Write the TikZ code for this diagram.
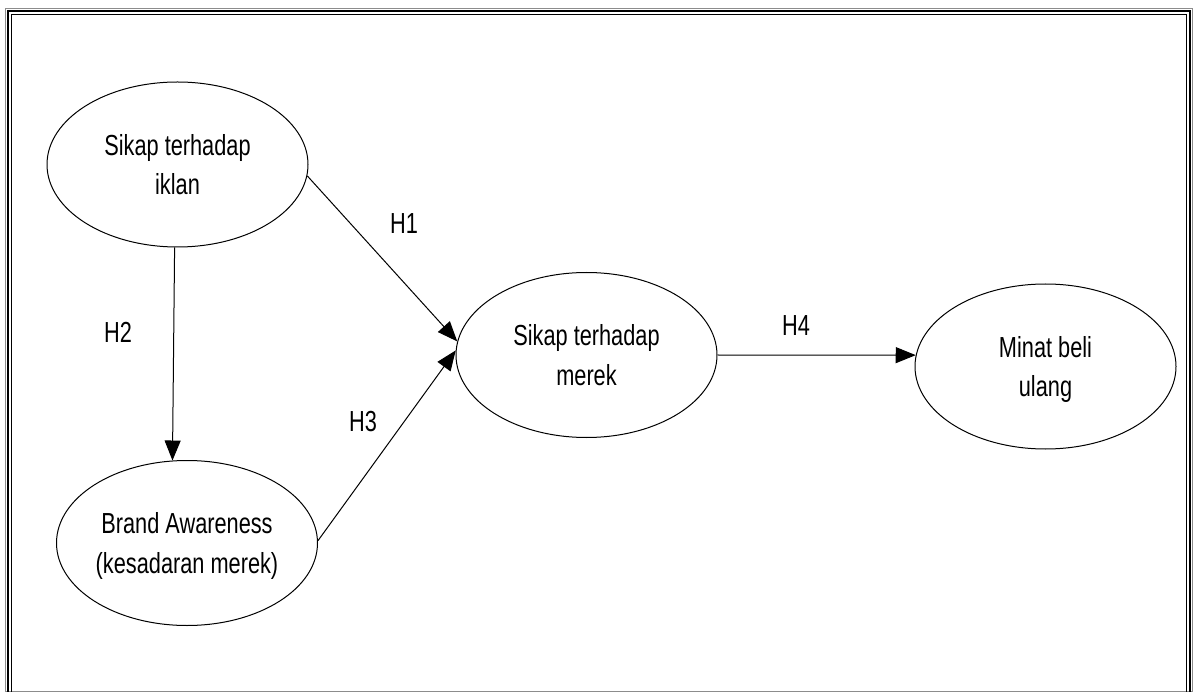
\documentclass[tikz,border=0pt]{standalone}
\usepackage{fontspec}
\setmainfont[FakeStretch=0.75]{Liberation Sans}
\usetikzlibrary{arrows.meta,shapes.geometric}
\begin{document}
\begin{tikzpicture}[x=1pt,y=-1pt,
  latent/.style={draw, line width=1pt, ellipse, minimum width=261pt, minimum height=165pt,
    inner sep=0pt, align=center, font=\fontsize{29}{39.5}\selectfont, text depth=0pt},
  hlabel/.style={font=\fontsize{29}{39.5}\selectfont, inner sep=0pt, text depth=0pt},
  conn/.style={-{Triangle[length=20pt,width=16pt]}, line width=1pt}]
\useasboundingbox (0,0) rectangle (1194,692);
\clip (0,0) rectangle (1194,692);
% frame
\draw[black!45, line width=1pt] (5.7,8.3) rectangle (1192.7,691);
\draw[line width=2.4pt] (8.2,11) rectangle (1189.8,710);
\draw[line width=1.5pt] (11.6,14.6) rectangle (1186.6,710);
% nodes
\node[latent] (e1) at (177.5,164.5) {Sikap terhadap\\iklan};
\node[latent] (e2) at (586.5,355) {Sikap terhadap\\merek};
\node[latent] (e3) at (1045.5,366.5) {Minat beli\\ulang};
\node[latent] (e4) at (187,543) {Brand Awareness\\(kesadaran merek)};
% connectors
\draw[conn] (e1.-5) -- (e2.174);
\draw[conn] (e1.-92) -- (e4.100);
\draw[conn] (e4.1) -- (e2.178);
\draw[conn] (e2.east) -- (e3.175);
% labels
\node[hlabel] (h1) at (404,224) {H1};
\node[hlabel] (h2) at (118,332) {H2};
\node[hlabel] (h3) at (363,421) {H3};
\node[hlabel] (h4) at (796,326) {H4};
\end{tikzpicture}
\end{document}
